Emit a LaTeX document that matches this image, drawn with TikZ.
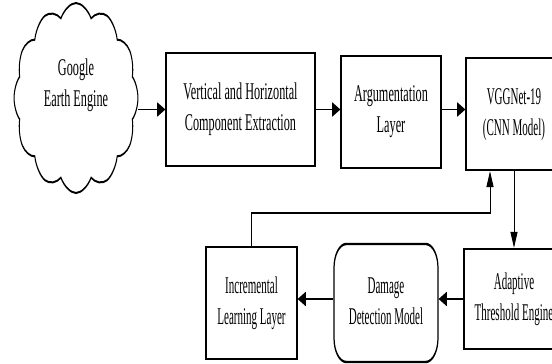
\documentclass[tikz,border=0pt]{standalone}
\usepackage{fontspec}
\usepackage{graphicx}
\setmainfont{Liberation Serif}
\usetikzlibrary{shapes.symbols,arrows.meta}
\newcommand{\narrowtxt}[1]{\scalebox{0.9}[1]{\begin{tabular}{@{}c@{}}#1\end{tabular}}}
\begin{document}
\begin{tikzpicture}[x=1pt,y=-1pt]
\useasboundingbox (0,0) rectangle (552,364);
\fill[white] (0,0) rectangle (552,364);
\begin{scope}
\clip (0,0) rectangle (552,364);
\begin{scope}[transform canvas={xscale=0.51}, x=1.96078pt, y=-1pt,
  lbl/.style={font=\fontsize{24}{31}\selectfont, align=center, inner sep=0pt},
  box/.style={lbl, draw, line width=2.4pt, rectangle},
  arr/.style={line width=1.6pt, -{Triangle[length=16pt,width=14pt]}}]
\node[cloud, draw, line width=2pt, cloud puffs=12, cloud puff arc=110, aspect=1.28,
      minimum width=243pt, minimum height=190pt, inner sep=0pt] (gee) at (76,98) {};
\node[lbl] (geetxt) at (76,85) {Google\\Earth Engine};
\node[box, minimum width=292.2pt, minimum height=113pt] (box1) at (240.5,109.5)
  {Vertical and Horizontal\\Component Extraction};
\node[box, minimum width=196.1pt, minimum height=112pt] (box2) at (391,112)
  {Argumentation\\Layer};
\node[box, minimum width=188.2pt, minimum height=112pt] (vgg) at (514,114)
  {\narrowtxt{VGGNet-19\\(CNN Model)}};
\node[box, minimum width=196.1pt, minimum height=100pt] (ada) at (514,299)
  {\narrowtxt{Adaptive\\Threshold Engine}};
\node[box, rounded corners=24pt, minimum width=203.9pt, minimum height=118pt] (dmg) at (386,303)
  {\narrowtxt{Damage\\Detection Model}};
\node[box, minimum width=178.4pt, minimum height=112pt] (inc) at (251.5,303)
  {\narrowtxt{Incremental\\Learning Layer}};
\draw[arr] (gee.east |- box1.west) -- (box1.west);
\draw[arr] (box1.east) -- (box1.east -| box2.west);
\draw[arr] (box2.east |- box1.east) -- (vgg.west |- box1.east);
\draw[arr] (vgg.south) -- (vgg.south |- ada.north);
\draw[arr] (ada.west) -- (ada.west -| dmg.east);
\draw[arr] (dmg.west |- ada.west) -- (inc.east |- ada.west);
\coordinate (fb) at (490,213);
\draw[arr] (inc.north) |- (fb) -- (fb |- vgg.south);
\end{scope}
\end{scope}
\end{tikzpicture}
\end{document}
